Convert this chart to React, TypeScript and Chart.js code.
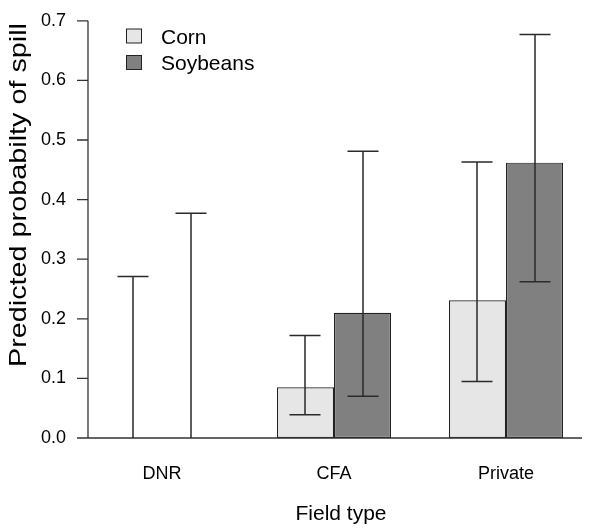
import React, { useEffect, useRef } from "react";
import { Chart, registerables } from "chart.js";

Chart.register(...registerables);

const categories = ["DNR", "CFA", "Private"];
const seriesNames = ["Corn", "Soybeans"];
const cornValues = [0, 0.085, 0.231];
const soyValues = [0, 0.21, 0.462];
const cornLow = [0, 0.039, 0.095];
const cornHigh = [0.271, 0.172, 0.463];
const soyLow = [0, 0.07, 0.262];
const soyHigh = [0.377, 0.481, 0.677];
const yTicks = [0, 0.1, 0.2, 0.3, 0.4, 0.5, 0.6, 0.7];
const xTitle = "Field type";
const yTitle = "Predicted probabilty of spill";

const FONT = "'Liberation Sans', Arial, sans-serif";

const customPlugin = {
  id: "custom",
  afterDatasetsDraw(chart: any) {
    const ctx = chart.ctx;
    const y = chart.scales.y;
    const axisX = 88;
    const y0 = y.getPixelForValue(0);
    const yTop = y.getPixelForValue(0.7);
    ctx.save();
    ctx.strokeStyle = "#333";
    ctx.lineWidth = 1.3;
    // y axis line
    ctx.beginPath();
    ctx.moveTo(axisX, yTop);
    ctx.lineTo(axisX, y0);
    yTicks.forEach((t) => {
      const py = y.getPixelForValue(t);
      ctx.moveTo(axisX - 11, py);
      ctx.lineTo(axisX, py);
    });
    // baseline
    ctx.moveTo(axisX - 11, y0);
    ctx.lineTo(582, y0);
    ctx.stroke();

    // error bars
    const lows = [cornLow, soyLow];
    const highs = [cornHigh, soyHigh];
    ctx.strokeStyle = "#2a2a2a";
    ctx.lineWidth = 1.5;
    [0, 1].forEach((d) => {
      const meta = chart.getDatasetMeta(d);
      meta.data.forEach((bar: any, i: number) => {
        const x = Math.round(bar.x);
        const pl = y.getPixelForValue(lows[d][i]);
        const ph = y.getPixelForValue(highs[d][i]);
        ctx.beginPath();
        ctx.moveTo(x, pl);
        ctx.lineTo(x, ph);
        ctx.moveTo(x - 15.5, ph);
        ctx.lineTo(x + 15.5, ph);
        if (lows[d][i] > 0) {
          ctx.moveTo(x - 15.5, pl);
          ctx.lineTo(x + 15.5, pl);
        }
        ctx.stroke();
      });
    });

    // legend
    const fills = ["#e6e6e6", "#808080"];
    ctx.font = `21px ${FONT}`;
    ctx.textBaseline = "middle";
    ctx.textAlign = "left";
    seriesNames.forEach((name, i) => {
      const cy = 36 + i * 26.5;
      ctx.fillStyle = fills[i];
      ctx.fillRect(126.5, cy - 7, 15, 14);
      ctx.strokeStyle = "#222";
      ctx.lineWidth = 1;
      ctx.strokeRect(126.5, cy - 7, 15, 14);
      ctx.fillStyle = "#000";
      ctx.fillText(name, 161, cy + 2);
    });

    // y title (stretched along its length to match the reference)
    ctx.save();
    ctx.font = `24px ${FONT}`;
    const w = ctx.measureText(yTitle).width;
    ctx.translate(19, 195);
    ctx.rotate(-Math.PI / 2);
    ctx.scale(344 / w, 1);
    ctx.textAlign = "center";
    ctx.textBaseline = "middle";
    ctx.fillStyle = "#000";
    ctx.fillText(yTitle, 0, 0);
    ctx.restore();

    // x title
    ctx.textAlign = "center";
    ctx.textBaseline = "middle";
    ctx.font = `21px ${FONT}`;
    ctx.fillStyle = "#000";
    ctx.fillText(xTitle, 341, 514);
    ctx.restore();
  },
};

export default function App() {
  const ref = useRef<HTMLCanvasElement>(null);
  useEffect(() => {
    if (!ref.current) return;
    const chart = new Chart(ref.current, {
      type: "bar",
      data: {
        labels: categories,
        datasets: [
          {
            label: seriesNames[0],
            data: cornValues,
            backgroundColor: "#e6e6e6",
            borderColor: "#222",
            borderWidth: 1.2,
            borderSkipped: false,
          },
          {
            label: seriesNames[1],
            data: soyValues,
            backgroundColor: "#808080",
            borderColor: "#222",
            borderWidth: 1.2,
            borderSkipped: false,
          },
        ],
      },
      options: {
        responsive: false,
        animation: false,
        layout: { padding: { top: 10, right: 8, bottom: 0, left: 0 } },
        plugins: { legend: { display: false }, tooltip: { enabled: false } },
        datasets: { bar: { barPercentage: 1, categoryPercentage: 0.663 } },
        scales: {
          x: {
            grid: { display: false },
            border: { display: false },
            ticks: { font: { family: FONT, size: 18 }, color: "#000", padding: 17 },
            afterFit: (s: any) => {
              s.height = 91;
            },
          },
          y: {
            min: 0,
            max: 0.7,
            grid: { display: false, drawTicks: false },
            border: { display: false },
            ticks: {
              stepSize: 0.1,
              font: { family: FONT, size: 18 },
              color: "#000",
              padding: 10,
              callback: (v: any) => Number(v).toFixed(1),
            },
            afterFit: (s: any) => {
              s.width = 76;
            },
          },
        },
      },
      plugins: [customPlugin],
    });
    return () => chart.destroy();
  }, []);
  return (
    <div style={{ position: "fixed", left: 0, top: 0, width: 600, height: 529, background: "#fff" }}>
      <canvas ref={ref} width={600} height={529} />
    </div>
  );
}
